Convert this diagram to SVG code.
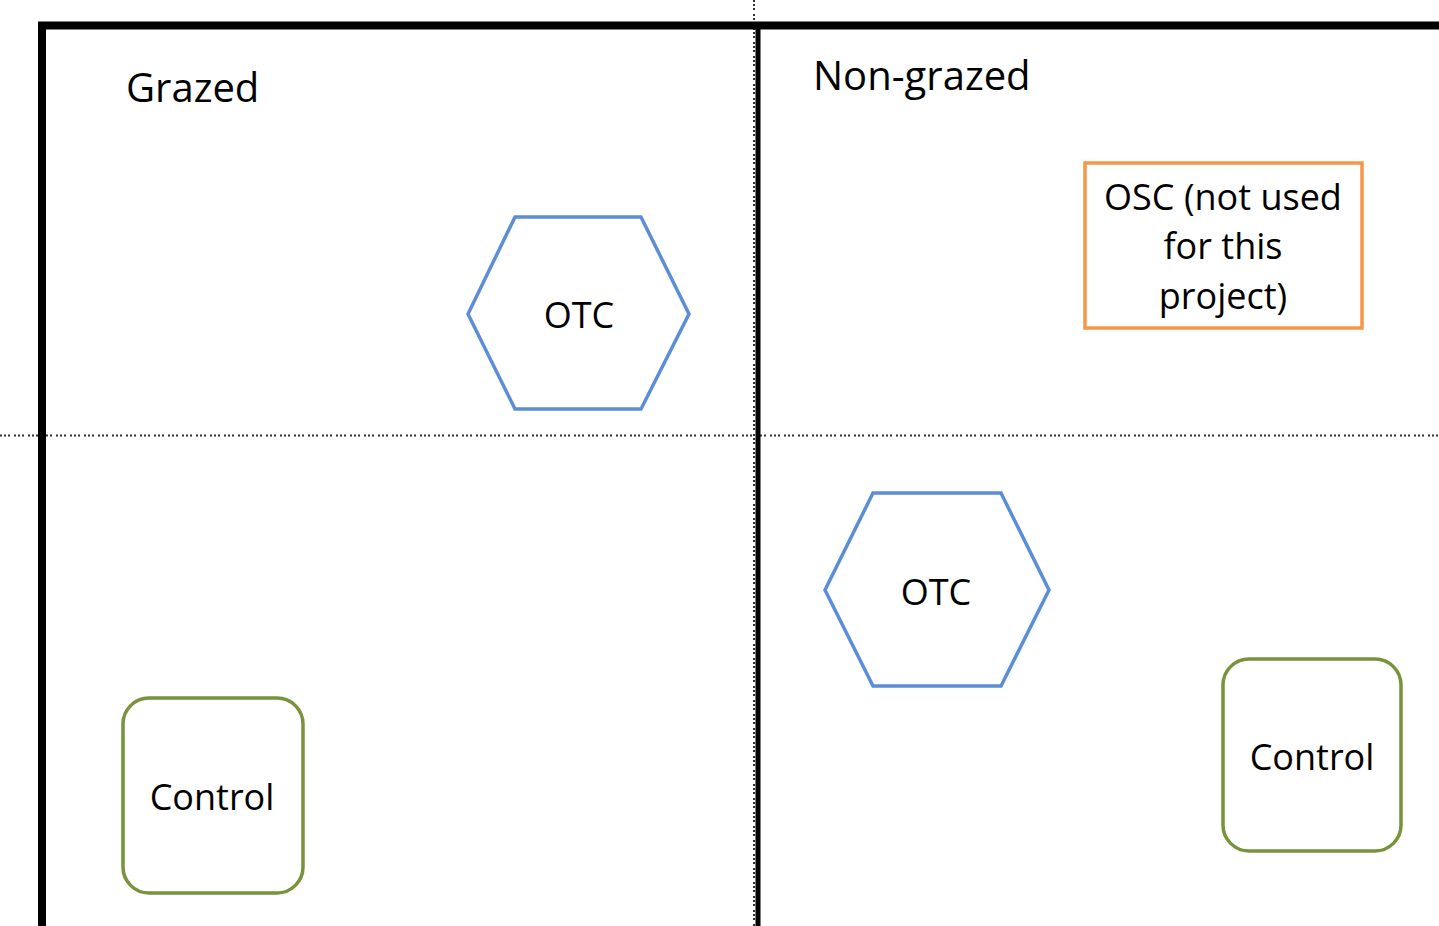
<svg xmlns="http://www.w3.org/2000/svg" width="1439" height="926" viewBox="0 0 1439 926">
<style>
.lbl{font-family:"Open Sans","Liberation Sans",sans-serif;font-size:36px;fill:#000}
.hd{font-size:40px}
.c{text-anchor:middle}
.hex{fill:#fff;stroke:#5B8ED6;stroke-width:3.5}
.ctl{fill:#fff;stroke:#77933C;stroke-width:3.5}
.osc{fill:#fff;stroke:#F79646;stroke-width:3.5}
.dot{stroke:#333;stroke-width:2;stroke-dasharray:2 2 2 2 2 4;fill:none}
.thick{stroke:#000;fill:none}
</style>
<rect width="1439" height="926" fill="#fff"/>
<g id="connectors">
<line class="dot" x1="754" y1="0" x2="754" y2="926"/>
<line class="dot" x1="0" y1="435.5" x2="1439" y2="435.5"/>
<path class="thick" stroke-width="8" d="M42 926 V25.5 H1439"/>
<line class="thick" stroke-width="5" x1="758" y1="25" x2="758" y2="926"/>
</g>
<g id="grazed"><text class="lbl hd" x="126" y="102">Grazed</text></g>
<g id="nongrazed"><text class="lbl hd" x="813" y="90">Non-grazed</text></g>
<g id="otc1">
<polygon class="hex" points="468,314 515,217 641,217 689,314 641,409 515,409"/>
<text class="lbl c" x="579" y="328">OTC</text>
</g>
<g id="otc2">
<polygon class="hex" points="825,590 873,493 1001,493 1049,590 1001,686 873,686"/>
<text class="lbl c" x="936" y="605">OTC</text>
</g>
<g id="osc">
<rect class="osc" x="1085" y="163" width="277" height="165"/>
<text class="lbl c" x="1223" y="210">OSC (not used</text>
<text class="lbl c" x="1223" y="259">for this</text>
<text class="lbl c" x="1223" y="309">project)</text>
</g>
<g id="control1">
<rect class="ctl" x="123" y="698" width="180" height="195" rx="26"/>
<text class="lbl c" x="212" y="810">Control</text>
</g>
<g id="control2">
<rect class="ctl" x="1223" y="659" width="178" height="192" rx="26"/>
<text class="lbl c" x="1312" y="770">Control</text>
</g>
</svg>
